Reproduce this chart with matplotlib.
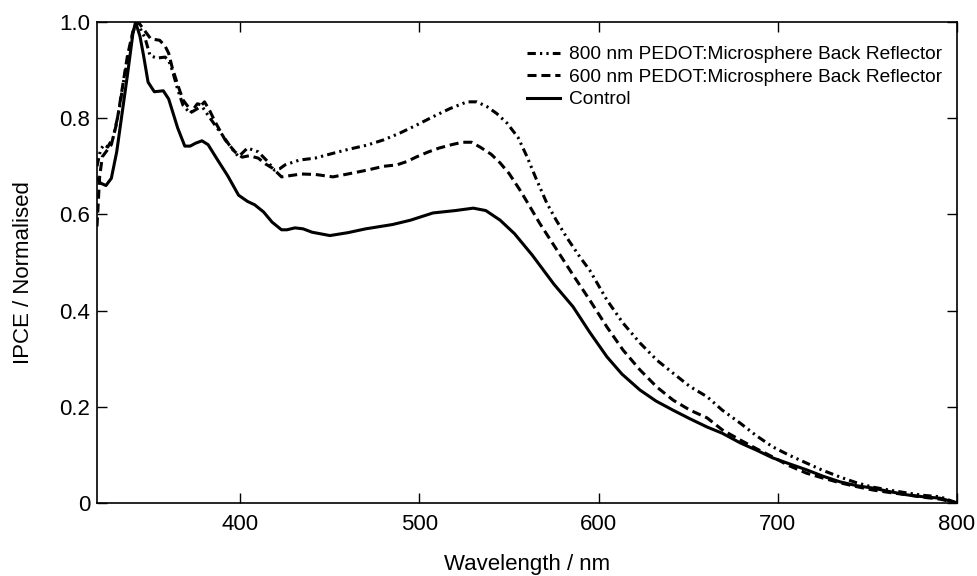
import matplotlib
matplotlib.use("Agg")
import matplotlib.pyplot as plt

plt.rcParams['font.family'] = ['Liberation Sans', 'DejaVu Sans']
plt.rcParams['lines.scale_dashes'] = False

# ---------------- data ----------------
wl_ctrl = [320, 322, 325, 328, 331, 334, 337, 340, 341.5, 344, 346, 348.5, 352, 357, 360, 365,
           369, 372, 375, 378.6, 382, 387, 393, 399, 404, 408, 413, 417.7, 423, 426, 430.5, 435,
           440, 450, 460, 470, 485, 495, 507.5, 520, 530, 537, 545, 553, 563, 567, 575, 585.7,
           595, 604.6, 613, 623, 632, 641.5, 651, 660.5, 669, 679, 688, 697, 706, 716, 725,
           734.7, 744, 753, 762, 772, 781, 790.5, 800]
ipce_ctrl = [0.675, 0.665, 0.660, 0.675, 0.73, 0.81, 0.89, 0.975, 1.0, 0.97, 0.93, 0.875, 0.855,
             0.857, 0.84, 0.78, 0.742, 0.742, 0.748, 0.753, 0.745, 0.715, 0.68, 0.64, 0.627,
             0.62, 0.605, 0.584, 0.568, 0.568, 0.572, 0.57, 0.563, 0.556, 0.562, 0.570, 0.579,
             0.588, 0.603, 0.608, 0.613, 0.608, 0.588, 0.56, 0.515, 0.495, 0.455, 0.408, 0.355,
             0.304, 0.268, 0.235, 0.212, 0.193, 0.175, 0.158, 0.145, 0.125, 0.11, 0.094, 0.082,
             0.069, 0.056, 0.044, 0.036, 0.031, 0.024, 0.017, 0.013, 0.01, 0.0]

wl_600 = [320, 321.5, 323, 325, 328, 331, 334, 337, 340, 343, 346, 350, 355, 358, 360, 362, 365,
          368, 373, 377, 380, 383, 386, 391.5, 397, 401, 405, 410, 414, 418, 423, 434, 442,
          451.7, 460, 470.7, 480, 487.4, 493, 498.6, 505, 511, 518, 524, 529, 533.8, 540, 545,
          550, 556, 561, 567, 576.7, 585.7, 595, 604.6, 613.6, 623, 632.5, 641.5, 651, 660.5,
          669, 679, 688, 697, 706, 716, 725, 734.7, 744, 753, 762, 772, 781, 790.5, 800]
ipce_600 = [0.575, 0.68, 0.72, 0.73, 0.745, 0.79, 0.86, 0.93, 0.98, 1.0, 0.985, 0.965, 0.962,
            0.95, 0.935, 0.905, 0.87, 0.838, 0.813, 0.822, 0.834, 0.815, 0.792, 0.755, 0.73,
            0.719, 0.722, 0.717, 0.705, 0.696, 0.678, 0.684, 0.683, 0.678, 0.684, 0.692, 0.70,
            0.703, 0.71, 0.72, 0.73, 0.738, 0.745, 0.75, 0.75, 0.74, 0.725, 0.707, 0.685, 0.651,
            0.62, 0.582, 0.526, 0.474, 0.422, 0.366, 0.318, 0.277, 0.241, 0.214, 0.193, 0.177,
            0.152, 0.131, 0.113, 0.096, 0.078, 0.062, 0.052, 0.042, 0.034, 0.027, 0.022, 0.017,
            0.012, 0.008, 0.0]

wl_800 = [320, 322, 324, 326, 329, 332, 335, 338, 340.5, 342.5, 345, 346.8, 349.6, 353.5, 358,
          360, 362, 365, 368, 372, 376, 378, 382, 386, 390, 395, 399, 404, 410, 415.5, 419, 422,
          425, 433, 441.7, 451.7, 460, 470.7, 480, 489, 498, 507.5, 517, 526.5, 532, 537.7, 543,
          548.8, 555, 560, 565, 571, 576, 582, 589.6, 595, 604.6, 613.6, 623, 632.5, 641.5, 651,
          660.5, 669, 679, 688, 697, 706, 716, 725, 734.7, 744, 753, 762, 772, 781, 790.5, 800]
ipce_800 = [0.70, 0.735, 0.745, 0.74, 0.76, 0.81, 0.88, 0.94, 0.985, 1.0, 0.98, 0.967, 0.93,
            0.925, 0.927, 0.92, 0.90, 0.86, 0.827, 0.81, 0.83, 0.828, 0.806, 0.785, 0.765, 0.738,
            0.72, 0.738, 0.73, 0.709, 0.692, 0.695, 0.703, 0.713, 0.717, 0.727, 0.735, 0.744,
            0.755, 0.769, 0.785, 0.803, 0.82, 0.834, 0.834, 0.824, 0.81, 0.79, 0.76, 0.72, 0.675,
            0.624, 0.59, 0.553, 0.511, 0.484, 0.422, 0.374, 0.333, 0.297, 0.27, 0.242, 0.221,
            0.193, 0.166, 0.14, 0.117, 0.1, 0.083, 0.068, 0.054, 0.042, 0.033, 0.027, 0.021,
            0.016, 0.013, 0.0]

labels = ["800 nm PEDOT:Microsphere Back Reflector",
          "600 nm PEDOT:Microsphere Back Reflector",
          "Control"]
xticks = [400, 500, 600, 700, 800]
xtick_labels = ["400", "500", "600", "700", "800"]
yticks = [0.0, 0.2, 0.4, 0.6, 0.8, 1.0]
ytick_labels = ["0", "0.2", "0.4", "0.6", "0.8", "1.0"]

# ---------------- figure ----------------
fig = plt.figure(figsize=(9.78, 5.76), dpi=100)
ax = fig.add_axes([97 / 978, 73 / 576, 860 / 978, 481 / 576])

lw = 2.2
ax.plot(wl_800, ipce_800, color='black', lw=lw,
        linestyle=(0, (6, 3, 1.6, 3, 1.6, 3)), label=labels[0])
ax.plot(wl_600, ipce_600, color='black', lw=lw,
        linestyle=(0, (6.5, 3.5)), label=labels[1])
ax.plot(wl_ctrl, ipce_ctrl, color='black', lw=lw, linestyle='-', label=labels[2])

ax.set_xlim(320, 800)
ax.set_ylim(0, 1.0)
ax.set_xticks(xticks)
ax.set_xticklabels(xtick_labels)
ax.set_yticks(yticks)
ax.set_yticklabels(ytick_labels)

ax.tick_params(axis='both', direction='in', length=7.5, width=1.0,
               top=True, right=True, labelsize=16, colors='black')
ax.tick_params(axis='x', pad=8)
ax.tick_params(axis='y', pad=5)
for s in ax.spines.values():
    s.set_linewidth(1.2)

ax.set_xlabel("Wavelength / nm", fontsize=16)
ax.set_ylabel("IPCE / Normalised", fontsize=16)
ax.xaxis.set_label_coords(0.5, -0.107)
ax.yaxis.set_label_coords(-0.073, 0.48)

ax.legend(loc='upper left', bbox_to_anchor=(527 / 978, 1 - 46 / 576),
          bbox_transform=fig.transFigure, frameon=False, fontsize=13.8,
          borderpad=0, borderaxespad=0, handlelength=1.72, handletextpad=0.47,
          labelspacing=0.26)

fig.savefig("out.png", dpi=100)
